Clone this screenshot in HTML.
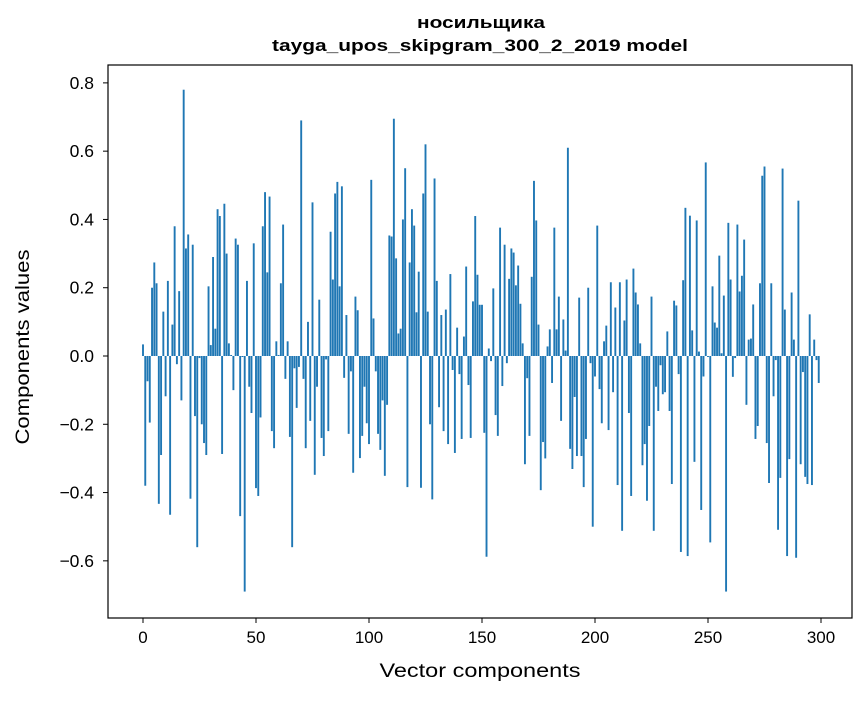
<!DOCTYPE html>
<html><head><meta charset="utf-8"><style>
body{margin:0;background:#fff}
svg text{font-family:"Liberation Sans","DejaVu Sans",sans-serif;fill:#000}
</style></head><body>
<svg id="chart" width="867" height="696" viewBox="0 0 867 696" xmlns="http://www.w3.org/2000/svg">
<rect width="867" height="696" fill="#fff"/>
<text x="481" y="28" font-size="17" font-weight="bold" text-anchor="middle" textLength="128" lengthAdjust="spacingAndGlyphs">носильщика</text>
<text x="480" y="51" font-size="17" font-weight="bold" text-anchor="middle" textLength="416" lengthAdjust="spacingAndGlyphs">tayga_upos_skipgram_300_2_2019 model</text>
<g id="bars"></g>
<g id="axes"></g>
<rect x="108" y="65" width="744" height="553" fill="none" stroke="#000" stroke-width="1.2"/>
<text x="480" y="677" font-size="19" text-anchor="middle" textLength="201" lengthAdjust="spacingAndGlyphs">Vector components</text>
<text x="29" y="347" font-size="19" text-anchor="middle" transform="rotate(-90 29 347)" textLength="195" lengthAdjust="spacingAndGlyphs">Components values</text>
</svg>
<script>
const values = [
.034,-.38,-.074,-.195,.20,.274,.213,-.433,-.29,.13,
-.118,.22,-.465,.092,.38,-.024,.19,-.13,.78,.315,
.356,-.418,.326,-.176,-.56,-.006,-.2,-.255,-.29,.204,
.032,.29,.08,.43,.41,-.287,.446,.30,.037,.003,
-.10,.344,.326,-.469,-.003,-.69,.22,-.09,-.167,.33,
-.387,-.41,-.18,.38,.48,.245,.467,-.22,-.27,.043,
.003,.213,.385,-.067,.043,-.237,-.56,-.036,-.152,-.032,
.69,-.067,-.27,.10,-.19,.45,-.348,-.09,.165,-.24,
-.293,-.01,-.22,.364,.224,.476,.51,.204,.497,-.064,
.12,-.228,-.045,-.342,.174,.134,-.299,-.234,-.09,-.197,
-.258,.516,.11,-.045,-.228,-.275,-.13,-.351,-.143,.353,
.35,.695,.286,.066,.08,.40,.55,-.384,.274,.43,
.382,.128,.247,-.386,.476,.62,.13,-.20,-.42,.52,
.22,-.15,.12,-.22,.136,-.258,.24,-.041,-.284,.083,
-.053,-.243,.057,.262,-.085,-.24,.16,.41,.238,.15,
.15,-.225,-.588,.022,-.015,.198,-.173,-.234,.376,-.088,
.326,-.021,.226,.315,.303,.207,.265,.153,.037,-.317,
-.065,-.234,.232,.513,.397,.092,-.393,-.252,-.30,.028,
.078,-.079,.376,.078,.174,-.19,.107,.016,.61,-.272,
-.331,-.12,-.293,.171,-.293,-.384,-.243,.20,-.021,-.50,
-.06,.382,-.097,-.197,.043,.089,-.217,.216,-.106,.142,
-.378,.216,-.512,.104,.224,-.167,-.41,.256,.186,.151,
.037,-.32,-.258,-.424,-.205,.174,-.512,-.09,-.161,-.027,
-.112,-.106,.072,-.161,-.375,.162,.148,-.053,-.574,.222,
.434,-.586,.411,.075,-.31,.397,.013,-.451,-.06,.567,
-.003,-.546,.204,.098,.083,.294,.008,.177,-.69,.39,
.224,-.061,-.006,.385,.189,.235,.341,-.143,.048,.051,
.151,-.243,-.205,.213,.528,.555,-.255,-.372,.213,-.118,
-.012,-.509,-.357,.549,.136,-.586,-.302,.186,.048,-.591,
.455,-.317,-.047,-.354,-.375,.122,-.378,.048,-.012,-.079
];
const xTicks = [0,50,100,150,200,250,300];
const yTicks = [-0.6,-0.4,-0.2,0.0,0.2,0.4,0.6,0.8];
const yTickLabels = ["\u22120.6","\u22120.4","\u22120.2","0.0","0.2","0.4","0.6","0.8"];

const NS="http://www.w3.org/2000/svg";
function xs(i){return 143+i*2.26;}
function ys(v){return 356-v*341.4;}
const bars=document.getElementById('bars');
values.forEach((v,i)=>{
  const r=document.createElementNS(NS,'rect');
  const y0=ys(0), y1=ys(v);
  r.setAttribute('x',(xs(i)-0.95).toFixed(2));
  r.setAttribute('width','1.9');
  r.setAttribute('y',Math.min(y0,y1).toFixed(2));
  r.setAttribute('height',Math.abs(y1-y0).toFixed(2));
  r.setAttribute('fill','#1f77b4');
  
  
  bars.appendChild(r);
});
const axes=document.getElementById('axes');
xTicks.forEach(t=>{
  const l=document.createElementNS(NS,'line');
  l.setAttribute('x1',xs(t));l.setAttribute('x2',xs(t));
  l.setAttribute('y1',618);l.setAttribute('y2',623);
  l.setAttribute('stroke','#000');
  
  
  axes.appendChild(l);
  const tx=document.createElementNS(NS,'text');
  tx.setAttribute('x',xs(t));tx.setAttribute('y',643);
  tx.setAttribute('font-size','17');tx.setAttribute('text-anchor','middle');
  tx.textContent=t;
  
  
  axes.appendChild(tx);
});
yTicks.forEach((t,k)=>{
  const l=document.createElementNS(NS,'line');
  l.setAttribute('x1',103);l.setAttribute('x2',108);
  l.setAttribute('y1',ys(t));l.setAttribute('y2',ys(t));
  l.setAttribute('stroke','#000');
  
  
  axes.appendChild(l);
  const tx=document.createElementNS(NS,'text');
  tx.setAttribute('x',94);tx.setAttribute('y',ys(t)+6);
  tx.setAttribute('font-size','17.5');tx.setAttribute('text-anchor','end');
  tx.textContent=yTickLabels[k];
  
  
  axes.appendChild(tx);
});
</script>
</body></html>
